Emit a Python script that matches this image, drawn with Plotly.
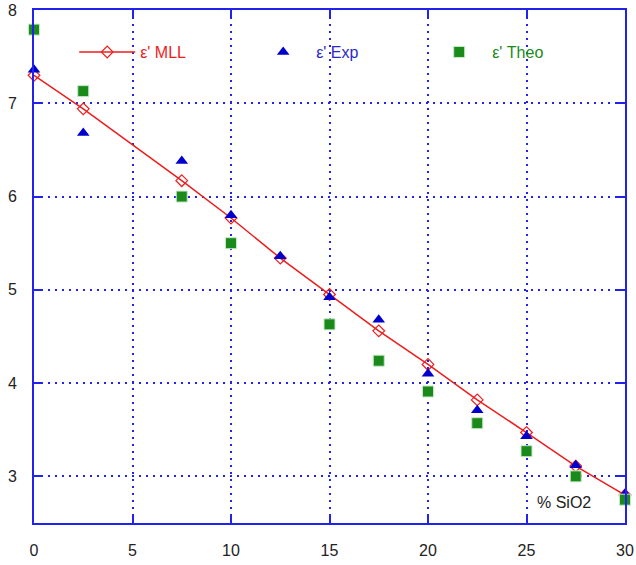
import plotly.graph_objects as go

x_mll = [0, 2.5, 7.5, 10, 12.5, 15, 17.5, 20, 22.5, 25, 27.5, 30]
y_mll = [7.30, 6.94, 6.17, 5.77, 5.34, 4.95, 4.56, 4.20, 3.82, 3.47, 3.11, 2.80]

x_exp = [0, 2.5, 7.5, 10, 12.5, 15, 17.5, 20, 22.5, 25, 27.5, 30]
y_exp = [7.36, 6.68, 6.38, 5.80, 5.36, 4.92, 4.68, 4.10, 3.71, 3.43, 3.12, 2.81]

x_theo = [0, 2.5, 7.5, 10, 15, 17.5, 20, 22.5, 25, 27.5, 30]
y_theo = [7.79, 7.13, 6.00, 5.50, 4.63, 4.24, 3.91, 3.57, 3.27, 3.00, 2.75]

x_ticks = [0, 5, 10, 15, 20, 25, 30]
y_ticks = [3, 4, 5, 6, 7, 8]

RED = "#ee1c1c"
BLUE = "#0000cc"
GREEN = "#1a8a1a"
AXIS = "#2222ee"

fig = go.Figure()
fig.add_trace(go.Scatter(
    x=x_mll, y=y_mll, mode="lines+markers", name="ε' MLL",
    line=dict(color=RED, width=1.5),
    marker=dict(symbol="diamond-open", size=9, color=RED, line=dict(width=1.2)),
    cliponaxis=False))
fig.add_trace(go.Scatter(
    x=x_exp, y=y_exp, mode="markers", name="<span style='color:#2a2acc'>ε' Exp</span>",
    marker=dict(symbol="triangle-up", size=11, color=BLUE),
    cliponaxis=False))
fig.add_trace(go.Scatter(
    x=x_theo, y=y_theo, mode="markers", name="<span style='color:#1a8a1a'>ε' Theo</span>",
    marker=dict(symbol="square", size=11, color=GREEN, line=dict(color="#c8e8c8", width=1)),
    cliponaxis=False))

fig.add_annotation(x=26.9, y=2.72, text="% SiO2", showarrow=False,
                   font=dict(family="Liberation Sans", size=16, color="#222"),
                   xref="x", yref="y")

fig.update_layout(
    width=636, height=565,
    margin=dict(l=34, r=11, t=10, b=42),
    paper_bgcolor="white", plot_bgcolor="white",
    font=dict(family="Liberation Sans", size=15, color="#222"),
    showlegend=True,
    legend=dict(orientation="h", x=0.068, y=0.918, xanchor="left", yanchor="middle",
                bgcolor="rgba(255,255,255,0)", font=dict(size=16, color=RED),
                itemwidth=56, entrywidth=105, entrywidthmode="pixels"),
    xaxis=dict(range=[0, 30], tickvals=x_ticks, showgrid=True, gridcolor=AXIS,
               griddash="2px,5px", gridwidth=1.6, zeroline=False, automargin=False,
               showline=True, linecolor=AXIS, linewidth=2, mirror="ticks",
               ticks="inside", ticklen=8, tickwidth=2, tickcolor=AXIS,
               tickfont=dict(size=16, color="#222"), ticklabelstandoff=12),
    yaxis=dict(range=[2.5, 8], tickvals=y_ticks, showgrid=True, gridcolor=AXIS,
               griddash="2px,5px", gridwidth=1.6, zeroline=False, automargin=False,
               showline=True, linecolor=AXIS, linewidth=2, mirror="ticks",
               ticks="inside", ticklen=8, tickwidth=2, tickcolor=AXIS,
               tickfont=dict(size=16, color="#222"), ticklabelstandoff=12),
)

fig.write_html("out.html")
